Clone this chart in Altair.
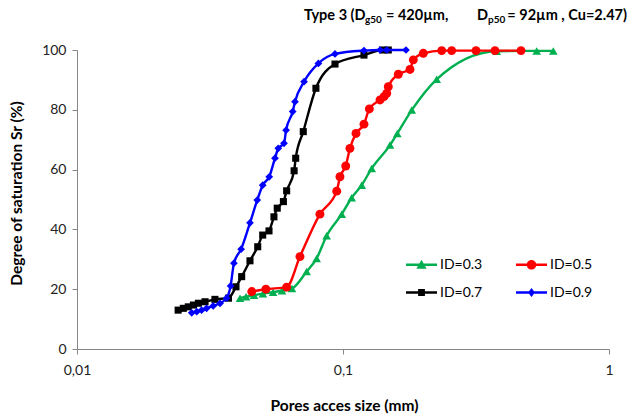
import altair as alt
import pandas as pd

series_names = ["ID=0.3", "ID=0.5", "ID=0.7", "ID=0.9"]
series_colors = ["#00B050", "#FF0000", "#000000", "#0000FF"]
series_shapes = ["triangle-up", "circle", "square", "diamond"]
series_sizes = [75, 80, 50, 60]

id03_x = [0.0410, 0.0432, 0.0463, 0.0500, 0.0546, 0.0590, 0.0643, 0.0730, 0.0796,
          0.0868, 0.0989, 0.1078, 0.1176, 0.1282, 0.1502, 0.1600, 0.1813, 0.2250,
          0.3783, 0.5348, 0.6175]
id03_y = [17.0, 17.5, 18.0, 18.5, 19.0, 19.5, 20.2, 25.9, 30.3,
          37.9, 45.1, 50.6, 54.8, 60.4, 68.2, 72.1, 79.9, 90.2,
          99.6, 99.7, 99.7]

id05_x = [0.0454, 0.0513, 0.0614, 0.0689, 0.0819, 0.0947, 0.0974, 0.1024, 0.1062,
          0.1119, 0.1199, 0.1256, 0.1378, 0.1426, 0.1460, 0.1480, 0.1614, 0.1786,
          0.1838, 0.2004, 0.2350, 0.2562, 0.3162, 0.3727, 0.4669]
id05_y = [19.2, 20.0, 20.7, 30.9, 45.1, 52.8, 57.6, 61.2, 67.1,
          72.1, 75.2, 80.3, 83.3, 84.4, 85.5, 87.7, 91.9, 93.5,
          96.7, 98.9, 99.8, 99.8, 99.8, 99.8, 99.8]

id07_x = [0.0240, 0.0251, 0.0262, 0.0274, 0.0286, 0.0303, 0.0330, 0.0371, 0.0396,
          0.0416, 0.0447, 0.0478, 0.0499, 0.0527, 0.0550, 0.0566, 0.0597, 0.0614,
          0.0655, 0.0664, 0.0709, 0.0791, 0.0933, 0.1199, 0.1410, 0.1480]
id07_y = [13.0, 13.6, 14.1, 14.7, 15.3, 15.8, 16.6, 17.0, 20.8,
          24.2, 29.5, 34.2, 38.1, 39.5, 44.2, 47.1, 49.3, 52.9,
          59.6, 63.8, 72.7, 87.2, 95.3, 98.3, 100.0, 100.0]

id09_x = [0.0270, 0.0282, 0.0294, 0.0307, 0.0325, 0.0345, 0.0365, 0.0378, 0.0389,
          0.0414, 0.0447, 0.0476, 0.0499, 0.0528, 0.0555, 0.0571, 0.0600, 0.0611,
          0.0647, 0.0660, 0.0714, 0.0808, 0.0933, 0.1199, 0.1378, 0.1460, 0.1725]
id09_y = [12.1, 12.5, 13.0, 13.6, 14.4, 15.3, 17.0, 21.1, 28.7,
          33.4, 42.2, 49.8, 54.8, 57.6, 63.8, 67.1, 68.8, 73.2,
          79.4, 82.7, 89.4, 95.5, 98.7, 99.8, 100.0, 100.0, 100.0]

x_ticks = [0.01, 0.1, 1]
y_ticks = [0, 20, 40, 60, 80, 100]

all_x = [id03_x, id05_x, id07_x, id09_x]
all_y = [id03_y, id05_y, id07_y, id09_y]

rows = []
for name, xs, ys in zip(series_names, all_x, all_y):
    for i, (xv, yv) in enumerate(zip(xs, ys)):
        rows.append({"series": name, "d": xv, "sr": yv, "order": i})
df = pd.DataFrame(rows)

FONT = "Lato"
AX_COL = "#868686"
LBL = 14
TTL = 15.5
MAIN = 14.5
SUB = 10

x_axis = alt.Axis(
    values=x_ticks,
    labelExpr="replace(format(datum.value, ''), '.', ',')",
    title="Pores acces size (mm)",
    grid=False, domainColor=AX_COL, tickColor=AX_COL, tickSize=5,
    labelFont=FONT, labelFontSize=LBL, labelColor="#222222", labelPadding=9,
    labelFlush=False,
    titleFont=FONT, titleFontSize=TTL, titleFontWeight="bold", titleColor="#000000",
    titleX=267, titleY=56, titleBaseline="middle", titleAlign="center",
)
y_axis = alt.Axis(
    values=y_ticks,
    title="Degree of saturation Sr (%)",
    grid=False, domainColor=AX_COL, tickColor=AX_COL, tickSize=5,
    labelFont=FONT, labelFontSize=LBL, labelColor="#222222", labelPadding=6,
    titleFont=FONT, titleFontSize=TTL, titleFontWeight="bold", titleColor="#000000",
    titleX=-61, titleY=143, titleBaseline="middle", titleAlign="center", titleAngle=270,
)

x_scale = alt.Scale(type="log", domain=[0.01, 1], nice=False)
y_scale = alt.Scale(domain=[0, 100], nice=False, zero=False)

base = alt.Chart(df).encode(
    x=alt.X("d:Q", scale=x_scale, axis=x_axis),
    y=alt.Y("sr:Q", scale=y_scale, axis=y_axis),
    order=alt.Order("order:Q"),
)

layers = []
for name, col, shp, sz in zip(series_names, series_colors, series_shapes, series_sizes):
    sub = base.transform_filter(alt.datum.series == name)
    layers.append(sub.mark_line(color=col, strokeWidth=2.4, interpolate="monotone"))
    layers.append(sub.mark_point(shape=shp, filled=True, color=col, size=sz, opacity=1))

# legend symbols: line + marker (unit coords scaled by sqrt(size)/2)
line_part = "M-1,-0.075H1V0.075H-1Z"
marker_paths = {
    "ID=0.3": "M0,-0.33L0.33,0.25L-0.33,0.25Z",
    "ID=0.5": "M-0.31,0A0.31,0.31,0,1,1,0.31,0A0.31,0.31,0,1,1,-0.31,0Z",
    "ID=0.7": "M-0.22,-0.22H0.22V0.22H-0.22Z",
    "ID=0.9": "M0,-0.29L0.22,0L0,0.29L-0.22,0Z",
}
color_map = dict(zip(series_names, series_colors))
# legend is filled column by column: list entries so rows read 0.3|0.5 and 0.7|0.9
legend_order = ["ID=0.3", "ID=0.7", "ID=0.5", "ID=0.9"]
legend_colors = [color_map[n] for n in legend_order]
legend_paths = [line_part + marker_paths[n] for n in legend_order]

legend = alt.Legend(
    orient="none", legendX=329, legendY=199, columns=2, title=None,
    symbolSize=961, symbolStrokeWidth=0, labelFont=FONT, labelFontSize=LBL,
    labelColor="#000000", labelOffset=3, columnPadding=33, rowPadding=5,
    padding=0, gridAlign="all",
)
legend_layer = alt.Chart(df).transform_filter("datum.sr < 0").mark_point(
    filled=True, opacity=1
).encode(
    x=alt.X("d:Q", scale=x_scale, axis=x_axis),
    y=alt.Y("sr:Q", scale=y_scale, axis=y_axis),
    color=alt.Color("series:N", scale=alt.Scale(domain=legend_order, range=legend_colors), legend=legend),
    shape=alt.Shape("series:N", scale=alt.Scale(domain=legend_order, range=legend_paths), legend=legend),
)

# title composed of pieces (with subscripts)
title_parts = [
    ("Type 3 (D", 227, -30, MAIN, "left"),
    ("g50", 288, -27, SUB, "left"),
    ("= 420\u00b5m,", 309, -30, MAIN, "left"),
    ("D", 400, -30, MAIN, "left"),
    ("p50", 411, -27, SUB, "left"),
    ("= 92\u00b5m , Cu=2.47)", 550, -30, MAIN, "right"),
]
title_layers = []
for txt, tx, ty, fs, al in title_parts:
    title_layers.append(
        alt.Chart(alt.Data(values=[{}])).mark_text(
            text=txt, align=al, baseline="alphabetic", font=FONT,
            fontSize=fs, fontWeight="bold", color="#000000"
        ).encode(x=alt.value(tx), y=alt.value(ty))
    )

chart = alt.layer(*layers, legend_layer, *title_layers).properties(
    width=532, height=299,
    autosize=alt.AutoSizeParams(type="none"),
    padding={"left": 77, "top": 50, "right": 21, "bottom": 67},
).configure_view(stroke=None).configure_legend(
    symbolStrokeWidth=0
)

chart.save("out.html", embed_options={"renderer": "svg", "actions": False})
